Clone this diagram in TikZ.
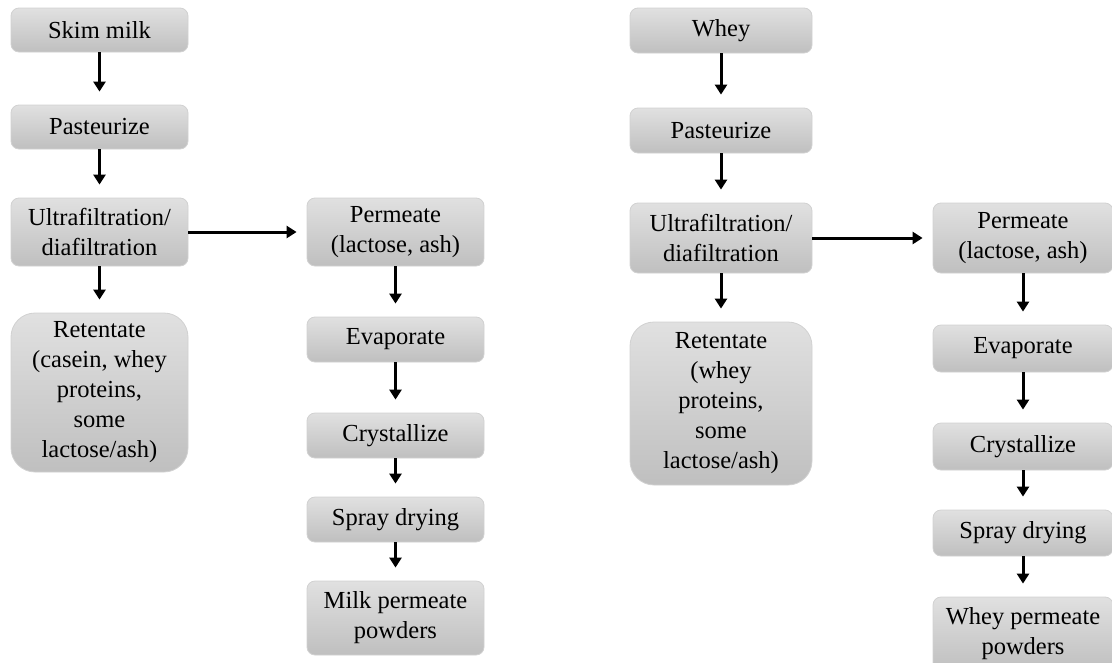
\documentclass[tikz,border=0pt]{standalone}
\usepackage{fontspec}
\setmainfont{Liberation Serif}
\usetikzlibrary{arrows.meta}
\begin{document}
\begin{tikzpicture}[x=1pt,y=-1pt,
  box/.style={draw=black!18, line width=0.8pt, rounded corners=8pt,
    top color=black!12, bottom color=black!25, align=center,
    inner sep=0pt, font=\fontsize{24.5}{30}\selectfont},
  bigbox/.style={box, rounded corners=24pt},
  arr/.style={line width=3pt, -{Triangle[width=12pt,length=10pt]}, shorten >=13pt},
  harr/.style={line width=3pt, -{Triangle[width=12pt,length=10pt]}, shorten >=10pt}]
\useasboundingbox (0,0) rectangle (1112,662);
% left diagram
\node[box, minimum width=177pt, minimum height=44pt] (skim) at (99.5,30) {Skim milk};
\node[box, minimum width=177pt, minimum height=44pt] (past1) at (99.5,127) {Pasteurize};
\node[box, minimum width=177pt, minimum height=68pt] (uf1) at (99.5,232) {Ultrafiltration/\\diafiltration};
\node[bigbox, minimum width=177pt, minimum height=159pt] (ret1) at (99.5,392.5) {Retentate\\(casein, whey\\proteins,\\some\\lactose/ash)};
\node[box, minimum width=177pt, minimum height=68pt] (perm1) at (395.5,232) {Permeate\\(lactose, ash)};
\node[box, minimum width=177pt, minimum height=45pt] (evap1) at (395.5,339.5) {Evaporate};
\node[box, minimum width=177pt, minimum height=45pt] (cry1) at (395.5,435.5) {Crystallize};
\node[box, minimum width=177pt, minimum height=45pt] (spr1) at (395.5,519.5) {Spray drying};
\node[box, minimum width=177pt, minimum height=74pt] (pow1) at (395.5,618) {Milk permeate\\powders};
\draw[arr] (skim) -- (past1);
\draw[arr] (past1) -- (uf1);
\draw[arr] (uf1) -- (ret1);
\draw[harr] (uf1.east) -- (uf1.east -| perm1.west);
\draw[arr] (perm1) -- (evap1);
\draw[arr] (evap1) -- (cry1);
\draw[arr] (cry1) -- (spr1);
\draw[arr] (spr1) -- (pow1);
% right diagram
\node[box, minimum width=182pt, minimum height=45pt] (whey) at (721,30.5) {Whey};
\node[box, minimum width=182pt, minimum height=45pt] (past2) at (721,130.5) {Pasteurize};
\node[box, minimum width=182pt, minimum height=70pt] (uf2) at (721,238) {Ultrafiltration/\\diafiltration};
\node[bigbox, minimum width=182pt, minimum height=163pt] (ret2) at (721,403.5) {Retentate\\(whey\\proteins,\\some\\lactose/ash)};
\node[box, minimum width=180pt, minimum height=70pt] (perm2) at (1023,238) {Permeate\\(lactose, ash)};
\node[box, minimum width=180pt, minimum height=47pt] (evap2) at (1023,348.5) {Evaporate};
\node[box, minimum width=180pt, minimum height=47pt] (cry2) at (1023,446.5) {Crystallize};
\node[box, minimum width=180pt, minimum height=46pt] (spr2) at (1023,533) {Spray drying};
\node[box, minimum width=180pt, minimum height=74pt] (pow2) at (1023,634) {Whey permeate\\powders};
\draw[arr] (whey) -- (past2);
\draw[arr] (past2) -- (uf2);
\draw[arr] (uf2) -- (ret2);
\draw[harr] (uf2.east) -- (uf2.east -| perm2.west);
\draw[arr] (perm2) -- (evap2);
\draw[arr] (evap2) -- (cry2);
\draw[arr] (cry2) -- (spr2);
\draw[arr] (spr2) -- (pow2);
\end{tikzpicture}
\end{document}
